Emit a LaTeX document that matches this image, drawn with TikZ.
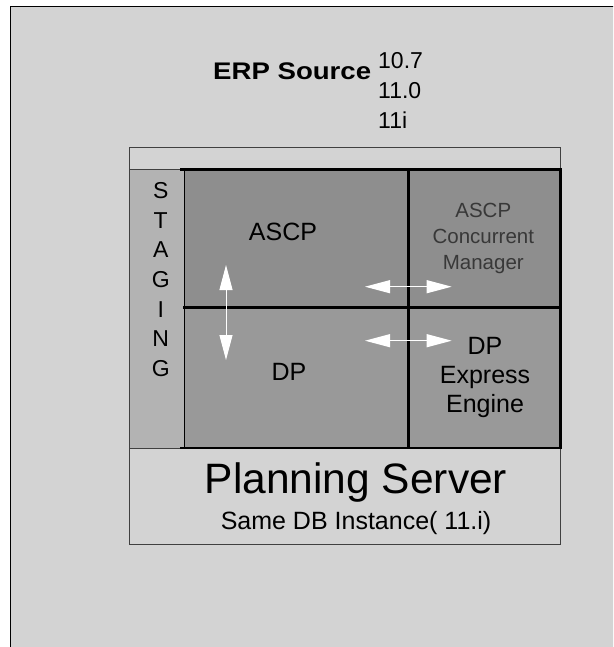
\documentclass[tikz,border=0pt]{standalone}
\usepackage{fontspec}
\setmainfont{Liberation Sans}
\usepackage{tikz}
\usetikzlibrary{arrows.meta}

\definecolor{pagegrey}{HTML}{D3D3D3}
\definecolor{staginggrey}{HTML}{B3B3B3}
\definecolor{topcell}{HTML}{8E8E8E}
\definecolor{lowcell}{HTML}{999999}

\tikzset{
  grid/.style={line width=2.6pt, line cap=rect},
  twoway/.style={white, line width=1pt,
    {Triangle[length=25pt,width=13pt]}-{Triangle[length=25pt,width=13pt]}},
  lbl/.style={inner sep=0pt, align=center}
}

\begin{document}
\begin{tikzpicture}[x=1pt,y=-1pt]
\useasboundingbox (0,0) rectangle (613,647);
\clip (0,0) rectangle (613,647);
\fill[white] (0,0) rectangle (613,647);
\draw[line width=1.5pt, fill=pagegrey] (10.5,6.5) rectangle (640,680);

%\draw (129.5,147) -- (560,147);
\draw[line width=0.9pt, draw=black!75] (129.5,147) rectangle (560.5,544);

% staging column
\draw[line width=0.9pt, draw=black!75, fill=staginggrey] (129.5,169.5) rectangle (184,448);
\node[lbl, font=\fontsize{23}{29.7}\selectfont] (staging) at (160.7,279.5) {S\\T\\A\\G\\I\\N\\G};

% the four cells
\fill[topcell] (184,169.5) rectangle (560.5,307.3);
\fill[lowcell] (184,307.3) rectangle (560.5,448);
\draw[line width=0.9pt] (184,169.5) -- (184,448);
\draw[grid] (181,169.5) -- (560.5,169.5) -- (560.5,448) -- (181,448);
\draw[grid] (184,307.3) -- (560.5,307.3);
\draw[grid] (408.3,169.5) -- (408.3,448);

%-------------------------------------
\node[lbl, anchor=base, font=\fontsize{25}{30}\selectfont] (ascp) at (283,240) {ASCP};
\node[lbl, anchor=base, font=\fontsize{25}{30}\selectfont] (dp) at (289,380) {DP};
\node[lbl, anchor=north, text=black!78, font=\fontsize{20.5}{25.6}\selectfont] (cmgr) at (483.3,203.3) {ASCP\\Concurrent\\Manager};
\node[lbl, anchor=north, font=\fontsize{25}{29}\selectfont] (dpx) at (485,336.7) {DP\\Express\\Engine};

\coordinate (vtop) at (226,265);
\coordinate (vbot) at (226,360);
\coordinate (ua) at (365,286.7);
\coordinate (ub) at (451.7,286.7);
\coordinate (la) at (365,340.7);
\coordinate (lb) at (451.7,340.7);
\draw[twoway] (vtop) -- (vbot);
\draw[twoway] (ua) -- (ub);
\draw[twoway] (la) -- (lb);

%-------------------------------------
\node[lbl, anchor=base, font=\bfseries\fontsize{24}{30}\selectfont] (erp) at (292.2,80) {\scalebox{1.15}[1]{ERP Source}};
\node[lbl, anchor=north west, align=left, font=\fontsize{23}{30}\selectfont] (vers) at (378,52) {10.7\\11.0\\11i};

\node[lbl, anchor=base, font=\fontsize{42.5}{50}\selectfont] (server) at (356,493.3) {Planning Server};
\node[lbl, anchor=base, font=\fontsize{25}{30}\selectfont] (inst) at (356,529.3) {Same DB Instance( 11.i)};
\end{tikzpicture}
\end{document}
